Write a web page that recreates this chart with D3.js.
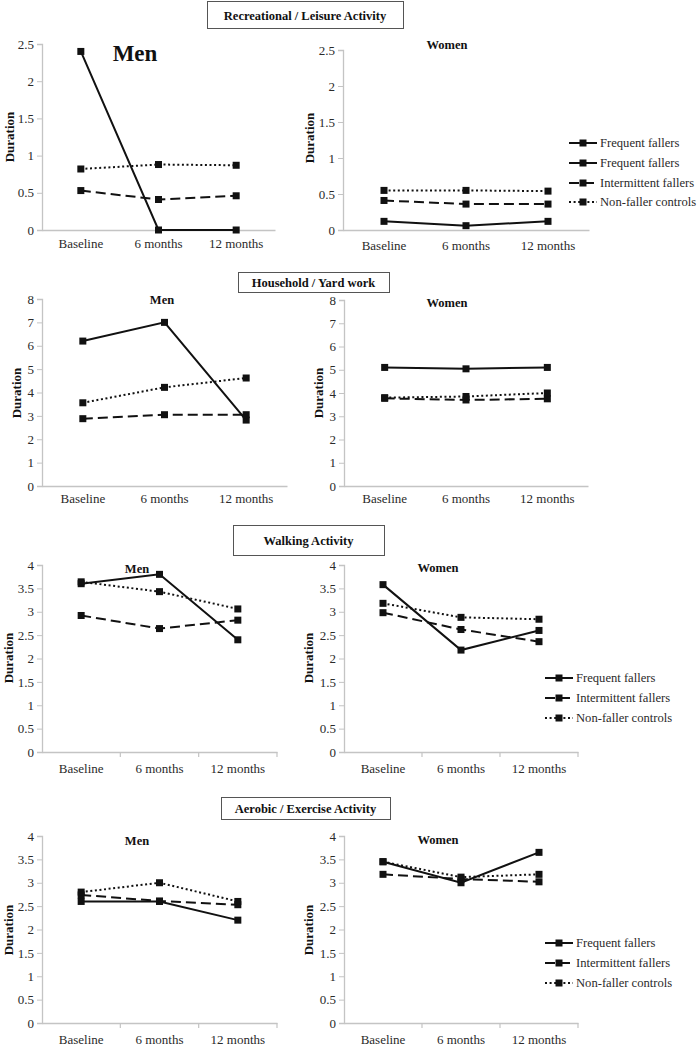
<!DOCTYPE html>
<html><head><meta charset="utf-8">
<script src="https://cdn.jsdelivr.net/npm/d3@7/dist/d3.min.js"></script>
<style>
html,body{margin:0;padding:0;background:#fff;}
svg, svg text{font-family:"Liberation Serif","Times New Roman",Times,"DejaVu Serif",serif !important;}
</style></head>
<body>
<svg id="chart" width="698" height="1048"></svg>
<script>
// ---------- DATA ----------
const categories = ["Baseline", "6 months", "12 months"];
const seriesNames = ["Frequent fallers", "Intermittent fallers", "Non-faller controls"];
const recLegendLabels = ["Frequent fallers", "Frequent fallers", "Intermittent fallers", "Non-faller controls"];
const sectionTitles = ["Recreational / Leisure Activity", "Household / Yard work", "Walking Activity", "Aerobic / Exercise Activity"];

// each: [Frequent fallers, Intermittent fallers, Non-faller controls]
const recMen = [[2.4, 0, 0], [0.53, 0.41, 0.46], [0.82, 0.88, 0.87]];
const recWomen = [[0.12, 0.06, 0.12], [0.41, 0.36, 0.36], [0.55, 0.55, 0.54]];
const houseMen = [[6.2, 7.0, 2.82], [2.88, 3.05, 3.05], [3.56, 4.22, 4.62]];
const houseWomen = [[5.1, 5.04, 5.1], [3.77, 3.7, 3.75], [3.8, 3.85, 4.0]];
const walkMen = [[3.6, 3.8, 2.4], [2.92, 2.64, 2.82], [3.64, 3.43, 3.06]];
const walkWomen = [[3.58, 2.18, 2.6], [2.98, 2.62, 2.36], [3.18, 2.88, 2.84]];
const aerMen = [[2.6, 2.6, 2.2], [2.74, 2.61, 2.53], [2.8, 3.0, 2.6]];
const aerWomen = [[3.45, 3.0, 3.65], [3.18, 3.08, 3.02], [3.45, 3.12, 3.18]];

const recTicks = [0, 0.5, 1, 1.5, 2, 2.5];
const houseTicks = [0, 1, 2, 3, 4, 5, 6, 7, 8];
const walkTicks = [0, 0.5, 1, 1.5, 2, 2.5, 3, 3.5, 4];
const aerTicks = [0, 0.5, 1, 1.5, 2, 2.5, 3, 3.5, 4];

// ---------- STYLE ----------
const dashes = [null, "10,5", "2,2.6"];
const ink = "#111";
const axisCol = "#c4c4c4";
const textCol = "#2a2a2a";
const serif = "'Liberation Serif','Times New Roman',Times,'DejaVu Serif',serif";

const svg = d3.select("#chart").attr("font-family", serif);

function panel(o) {
  const g = svg.append("g");
  const x = d3.scaleBand().domain(categories).range([o.x0, o.x1]);
  const y = d3.scaleLinear().domain([0, d3.max(o.ticks)]).range([o.yb, o.yt]);

  // y axis
  const ya = g.append("g").attr("transform", `translate(${o.x0},0)`)
    .call(d3.axisLeft(y).tickValues(o.ticks).tickSize(5).tickPadding(3).tickFormat(d => String(d)));
  ya.attr("font-family", serif).attr("font-size", 13);
  ya.select(".domain").attr("stroke", axisCol).attr("stroke-width", 1.3);
  ya.selectAll(".tick line").attr("stroke", axisCol);
  ya.selectAll(".tick text").attr("fill", textCol);

  // x axis
  const xa = g.append("g").attr("transform", `translate(0,${o.yb})`)
    .call(d3.axisBottom(x).tickSize(0).tickPadding(o.xpad));
  xa.attr("font-family", serif).attr("font-size", 13);
  xa.select(".domain").attr("stroke", axisCol).attr("stroke-width", 1.3);
  xa.selectAll(".tick text").attr("fill", textCol);
  if (o.xticks) {
    const bounds = categories.map(c => x(c) + x.bandwidth());
    g.selectAll(null).data(bounds).enter().append("line")
      .attr("x1", d => d).attr("x2", d => d).attr("y1", o.yb).attr("y2", o.yb + 5)
      .attr("stroke", axisCol).attr("stroke-width", 1.2);
  }

  // axis title
  g.append("text").attr("transform", `translate(${o.durX},${o.durY}) rotate(-90)`)
    .attr("text-anchor", "middle").attr("dominant-baseline", "central")
    .attr("font-size", 13).attr("font-weight", "bold").attr("fill", ink).text("Duration");

  // panel label
  g.append("text").attr("x", o.lx).attr("y", o.ly).attr("text-anchor", "middle")
    .attr("dominant-baseline", "central").attr("font-size", o.lsize)
    .attr("font-weight", "bold").attr("fill", ink).text(o.label);

  const line = d3.line().x((d, i) => x(categories[i]) + x.bandwidth() / 2).y(d => y(d));
  o.data.forEach((s, k) => {
    g.append("path").datum(s).attr("d", line).attr("fill", "none").attr("stroke", ink)
      .attr("stroke-width", 2).attr("stroke-dasharray", dashes[k]);
    g.selectAll(null).data(s).enter().append("rect")
      .attr("x", (d, i) => x(categories[i]) + x.bandwidth() / 2 - 3.5)
      .attr("y", d => y(d) - 3.5).attr("width", 7).attr("height", 7).attr("fill", ink);
  });
}

function titleBox(text, x0, x1, y0, y1) {
  svg.append("rect").attr("x", x0 + 0.5).attr("y", y0 + 0.5).attr("width", x1 - x0).attr("height", y1 - y0)
    .attr("fill", "#fff").attr("stroke", "#555").attr("stroke-width", 1);
  svg.append("text").attr("x", (x0 + x1) / 2).attr("y", (y0 + y1) / 2 + 1).attr("text-anchor", "middle")
    .attr("dominant-baseline", "central").attr("font-size", 12.5).attr("font-weight", "bold")
    .attr("fill", ink).text(text);
}

function legend(labels, styleIdx, x0, ys) {
  labels.forEach((lab, i) => {
    const yy = ys[i];
    svg.append("line").attr("x1", x0).attr("x2", x0 + 28).attr("y1", yy).attr("y2", yy)
      .attr("stroke", ink).attr("stroke-width", 2).attr("stroke-dasharray", dashes[styleIdx[i]]);
    svg.append("rect").attr("x", x0 + 14 - 3.5).attr("y", yy - 3.5).attr("width", 7).attr("height", 7).attr("fill", ink);
    svg.append("text").attr("x", x0 + 31).attr("y", yy).attr("dominant-baseline", "central")
      .attr("font-size", 12.6).attr("fill", textCol).text(lab);
  });
}

// Row 1
panel({data: recMen, ticks: recTicks, x0: 42, x1: 275, yt: 44, yb: 230, xpad: 9, durX: 9, durY: 137,
  label: "Men", lx: 135, ly: 53, lsize: 23});
panel({data: recWomen, ticks: recTicks, x0: 343, x1: 589, yt: 50, yb: 230, xpad: 11, durX: 309, durY: 138,
  label: "Women", lx: 447, ly: 45, lsize: 12.5});
titleBox(sectionTitles[0], 207, 403, 1, 28);
legend(recLegendLabels, [0, 0, 1, 2], 569, [143, 163, 183, 202]);

// Row 2
panel({data: houseMen, ticks: houseTicks, x0: 42, x1: 287, yt: 299, yb: 486, xpad: 8, durX: 16, durY: 393,
  label: "Men", lx: 162, ly: 300, lsize: 12.5});
panel({data: houseWomen, ticks: houseTicks, x0: 344, x1: 588, yt: 300, yb: 486, xpad: 8, durX: 318, durY: 393,
  label: "Women", lx: 447, ly: 303, lsize: 12.5});
titleBox(sectionTitles[1], 238, 389, 272, 292);

// Row 3
panel({data: walkMen, ticks: walkTicks, x0: 42, x1: 277, yt: 565, yb: 752, xpad: 12, durX: 8, durY: 658,
  label: "Men", lx: 137, ly: 569, lsize: 12.5, xticks: true});
panel({data: walkWomen, ticks: walkTicks, x0: 344, x1: 578, yt: 565, yb: 752, xpad: 12, durX: 308, durY: 658,
  label: "Women", lx: 438, ly: 568, lsize: 12.5, xticks: true});
titleBox(sectionTitles[2], 233, 384, 525, 555);
legend(seriesNames, [0, 1, 2], 545, [678, 698, 718]);

// Row 4
panel({data: aerMen, ticks: aerTicks, x0: 42, x1: 277, yt: 836, yb: 1023, xpad: 12, durX: 8, durY: 930,
  label: "Men", lx: 137, ly: 841, lsize: 12.5, xticks: true});
panel({data: aerWomen, ticks: aerTicks, x0: 344, x1: 578, yt: 836, yb: 1023, xpad: 12, durX: 308, durY: 930,
  label: "Women", lx: 438, ly: 840, lsize: 12.5, xticks: true});
titleBox(sectionTitles[3], 221, 390, 797, 819);
legend(seriesNames, [0, 1, 2], 545, [943, 963, 983]);
</script>
</body></html>
